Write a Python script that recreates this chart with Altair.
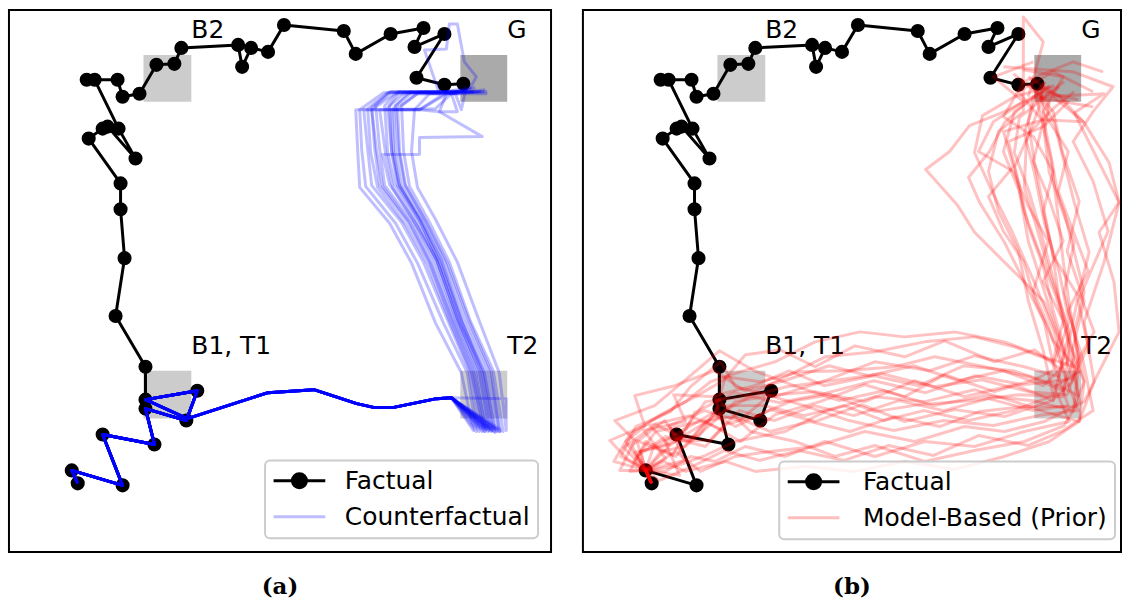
import altair as alt
import pandas as pd

# Frame coordinates: x grows to the right, y grows downward, frame spans 8..552.

# Factual trajectory (start bottom-left, ends in the G zone)
FACT_X = [77, 71, 122, 102, 154, 145, 186, 197, 145, 145, 115, 124, 120, 120, 88,
          102, 107, 135, 118, 94, 86, 117, 122, 139, 156, 174, 181, 238, 242, 251,
          268, 284, 344, 356, 391, 424, 415, 445, 417, 445, 464]
FACT_Y = [483, 470, 485, 434, 444, 408, 420, 390, 399, 366, 315, 257, 208, 182, 137,
          127, 125, 157, 127, 78, 78, 78, 95, 92, 63, 62, 46, 43, 65, 46,
          50, 23, 29, 52, 32, 26, 45, 32, 76, 83, 82]

# Counterfactual runs: common opening, then individual climbs from T2 to G
CF_SHARED_X = [77, 71, 122, 102, 154, 145, 186, 197, 145, 187, 268, 314, 357, 375, 393, 437, 452]
CF_SHARED_Y = [483, 470, 485, 434, 444, 408, 420, 390, 399, 418, 392, 389, 403, 407, 407, 398, 397]

CF_TAILS = [
    [(474, 430), (462, 372), (436, 322), (412, 262), (390, 222), (360, 186), (358, 150), (356, 108), (420, 108), (446, 91), (470, 88)],
    [(477, 431), (468, 372), (444, 322), (418, 262), (396, 222), (366, 185), (362, 148), (360, 108), (384, 91), (445, 90), (472, 86)],
    [(480, 431), (470, 371), (449, 321), (424, 261), (402, 221), (372, 184), (368, 148), (364, 108), (420, 108), (440, 110), (458, 110), (452, 92), (480, 90)],
    [(483, 431), (473, 371), (452, 320), (430, 261), (408, 220), (380, 184), (375, 147), (372, 106), (390, 90), (450, 90), (488, 90)],
    [(486, 431), (476, 370), (455, 320), (433, 260), (412, 220), (385, 184), (380, 147), (376, 104), (392, 90), (470, 90), (486, 88)],
    [(489, 431), (478, 370), (457, 320), (436, 260), (414, 219), (390, 183), (383, 153), (420, 153), (420, 136), (483, 135), (440, 110), (447, 92), (468, 88)],
    [(492, 431), (481, 370), (459, 321), (438, 261), (417, 219), (395, 183), (388, 150), (385, 104), (398, 90), (440, 92), (425, 48), (447, 47), (450, 22), (458, 22), (465, 60), (477, 75), (470, 88)],
    [(495, 431), (484, 370), (462, 320), (440, 261), (420, 219), (398, 184), (392, 150), (390, 104), (400, 90), (466, 91), (485, 90)],
    [(498, 431), (487, 370), (464, 320), (443, 261), (423, 220), (402, 184), (396, 150), (394, 106), (410, 90), (456, 92), (462, 108), (466, 90)],
    [(501, 431), (490, 370), (467, 320), (446, 261), (426, 220), (406, 184), (400, 150), (398, 106), (420, 90), (475, 90)],
    [(504, 431), (494, 370), (471, 320), (450, 261), (430, 221), (410, 185), (404, 150), (402, 104), (418, 92), (488, 92)],
    [(507, 398), (507, 430), (500, 372), (480, 320), (458, 261), (436, 218), (418, 186), (412, 150), (415, 108), (430, 92), (460, 90)],
    [(490, 430), (480, 371), (458, 318), (437, 258), (416, 222), (393, 186), (386, 152), (380, 108), (436, 107), (452, 92), (476, 86)],
    [(496, 432), (485, 372), (461, 322), (441, 263), (421, 221), (399, 182), (392, 148), (388, 106), (405, 91), (468, 89)],
    [(487, 429), (474, 369), (453, 319), (431, 262), (410, 221), (383, 185), (377, 150), (372, 108), (395, 92), (460, 92)],
    [(493, 430), (483, 372), (463, 322), (442, 259), (421, 218), (400, 185), (394, 151), (392, 108), (420, 108), (448, 92), (474, 90)],
    [(500, 431), (492, 371), (470, 321), (448, 262), (427, 221), (405, 183), (399, 149), (396, 104), (412, 91), (482, 90)],
    [(485, 431), (472, 372), (451, 322), (428, 263), (406, 223), (378, 186), (371, 151), (368, 107), (388, 91), (456, 90)],
]

# Model-based (prior) samples
PRIOR_RUNS = [
    [(77, 483), (71, 470), (60, 452), (96, 444), (121, 428), (150, 410), (176, 396), (212, 386), (258, 380), (308, 373), (360, 386), (408, 379), (455, 391), (494, 394), (506, 360), (497, 309), (490, 260), (484, 208), (478, 160), (469, 120), (462, 92), (472, 80)],
    [(77, 483), (71, 470), (49, 447), (81, 424), (115, 441), (139, 414), (161, 426), (196, 409), (241, 421), (288, 404), (331, 421), (381, 409), (431, 416), (479, 400), (500, 380), (487, 340), (471, 290), (455, 240), (446, 190), (430, 150), (441, 110), (470, 90), (505, 98)],
    [(77, 483), (71, 470), (91, 458), (69, 430), (111, 421), (99, 394), (141, 396), (176, 431), (221, 441), (261, 456), (301, 445), (351, 461), (401, 450), (451, 441), (491, 425), (506, 400), (499, 350), (511, 300), (494, 250), (506, 200), (489, 150), (480, 110), (458, 84)],
    [(77, 483), (71, 470), (39, 461), (55, 434), (86, 414), (121, 396), (150, 379), (171, 354), (206, 349), (241, 366), (281, 345), (331, 356), (371, 340), (421, 361), (461, 349), (491, 371), (481, 331), (461, 281), (439, 231), (419, 191), (401, 151), (409, 114), (441, 95), (481, 84)],
    [(77, 483), (71, 470), (101, 466), (131, 455), (161, 441), (211, 431), (251, 411), (301, 396), (351, 401), (401, 389), (441, 401), (471, 411), (506, 421), (521, 381), (511, 321), (531, 261), (546, 201), (521, 151), (501, 111), (531, 92), (471, 95)],
    [(77, 483), (71, 470), (55, 471), (71, 441), (101, 456), (131, 421), (166, 441), (201, 414), (246, 401), (291, 384), (331, 396), (371, 374), (421, 391), (461, 379), (481, 369), (471, 321), (446, 271), (431, 241), (406, 201), (395, 176), (416, 150), (431, 121), (455, 99), (476, 84)],
    [(77, 483), (71, 470), (86, 451), (111, 446), (136, 424), (161, 401), (201, 394), (241, 391), (291, 401), (341, 380), (391, 396), (441, 384), (480, 400), (491, 351), (471, 301), (431, 261), (401, 231), (384, 204), (352, 168), (376, 150), (396, 124), (431, 110), (460, 95), (520, 105)],
    [(77, 483), (71, 470), (101, 451), (126, 471), (161, 456), (196, 451), (241, 446), (291, 431), (341, 441), (391, 426), (431, 431), (471, 421), (511, 401), (531, 361), (546, 331), (541, 281), (526, 231), (546, 201), (536, 161), (511, 121), (486, 95), (466, 85)],
    [(77, 483), (71, 470), (63, 455), (91, 436), (131, 446), (151, 424), (181, 416), (216, 401), (256, 394), (301, 411), (346, 404), (396, 400), (446, 394), (490, 396), (496, 346), (486, 300), (479, 250), (469, 200), (461, 160), (455, 120), (460, 95), (478, 85)],
    [(77, 483), (71, 470), (79, 446), (106, 431), (141, 411), (151, 376), (186, 381), (226, 371), (271, 370), (321, 366), (361, 356), (411, 366), (456, 376), (490, 390), (501, 356), (491, 316), (476, 271), (463, 225), (451, 186), (453, 140), (466, 105), (471, 80)],
    [(77, 483), (71, 470), (46, 456), (61, 426), (96, 411), (116, 386), (146, 361), (161, 386), (201, 396), (251, 380), (301, 361), (356, 370), (401, 355), (451, 366), (486, 376), (496, 331), (481, 281), (469, 236), (456, 191), (441, 151), (446, 116), (471, 96), (486, 85)],
    [(77, 483), (71, 470), (91, 471), (116, 456), (141, 461), (171, 446), (211, 456), (251, 441), (301, 456), (351, 441), (401, 446), (451, 431), (496, 421), (481, 386), (506, 371), (501, 331), (491, 291), (501, 241), (486, 201), (479, 161), (471, 121), (468, 90)],
    [(77, 483), (71, 470), (59, 461), (81, 431), (126, 421), (161, 416), (196, 431), (236, 421), (276, 431), (321, 416), (366, 426), (406, 411), (451, 406), (501, 406), (511, 381), (496, 341), (483, 296), (466, 251), (451, 211), (441, 166), (456, 131), (481, 106), (501, 90)],
    [(77, 483), (71, 470), (66, 451), (101, 441), (131, 401), (171, 396), (211, 376), (251, 356), (301, 351), (351, 341), (401, 336), (441, 346), (481, 361), (496, 321), (486, 271), (471, 221), (461, 171), (451, 131), (461, 101), (491, 80)],
    [(77, 483), (71, 470), (89, 461), (111, 471), (151, 461), (181, 471), (231, 466), (281, 471), (331, 461), (381, 469), (431, 456), (476, 441), (506, 421), (511, 381), (501, 331), (511, 291), (501, 251), (491, 211), (476, 171), (471, 131), (476, 101), (440, 72)],
    [(77, 483), (71, 470), (51, 441), (76, 421), (111, 401), (136, 381), (166, 371), (201, 361), (241, 341), (286, 331), (331, 336), (381, 331), (431, 341), (471, 356), (501, 366), (521, 331), (506, 291), (516, 251), (501, 201), (491, 161), (481, 121), (466, 95)],
    [(77, 483), (71, 470), (105, 475), (90, 440), (125, 435), (145, 405), (190, 405), (230, 415), (270, 405), (310, 420), (350, 410), (395, 420), (440, 410), (480, 395), (470, 350), (455, 300), (445, 250), (425, 210), (415, 170), (425, 130), (450, 110), (450, 15), (470, 40), (455, 95)],
    [(77, 483), (71, 470), (62, 440), (98, 455), (120, 412), (160, 392), (205, 402), (250, 393), (300, 380), (352, 392), (402, 375), (450, 384), (500, 378), (515, 345), (505, 300), (535, 230), (520, 180), (500, 140), (520, 110), (540, 85), (500, 70), (430, 65)],
    [(77, 483), (71, 470), (45, 470), (60, 440), (40, 420), (80, 405), (110, 380), (145, 350), (180, 370), (220, 385), (265, 400), (310, 390), (360, 405), (410, 395), (460, 400), (500, 410), (505, 370), (480, 340), (462, 300), (450, 260), (430, 230), (415, 195), (440, 165), (430, 130), (470, 118), (510, 120), (480, 95)],
    [(77, 483), (71, 470), (95, 445), (75, 425), (115, 415), (150, 430), (140, 395), (180, 385), (215, 370), (250, 385), (300, 375), (345, 385), (390, 365), (440, 370), (485, 385), (505, 395), (495, 345), (505, 295), (480, 255), (470, 210), (480, 170), (460, 135), (430, 115), (450, 80), (500, 60), (530, 70)],
    [(77, 483), (71, 470), (110, 460), (95, 425), (130, 410), (165, 420), (195, 395), (230, 405), (275, 420), (320, 430), (370, 420), (420, 425), (465, 415), (505, 410), (490, 370), (475, 325), (460, 290), (475, 240), (455, 205), (440, 170), (405, 150), (420, 120), (450, 100), (420, 75), (460, 60)],
    [(77, 483), (71, 470), (52, 458), (35, 440), (70, 425), (60, 395), (100, 385), (140, 370), (170, 390), (210, 380), (255, 365), (295, 375), (340, 365), (385, 380), (430, 370), (470, 385), (495, 360), (480, 310), (470, 265), (455, 225), (445, 180), (435, 140), (470, 125), (495, 100), (455, 75)],
    [(77, 483), (71, 470), (85, 480), (120, 465), (150, 450), (185, 460), (225, 450), (270, 460), (315, 445), (360, 455), (405, 435), (455, 445), (490, 430), (520, 410), (510, 360), (495, 310), (515, 270), (500, 230), (485, 190), (495, 150), (470, 110), (490, 75), (450, 68)],
    [(77, 483), (71, 470), (57, 445), (90, 420), (105, 440), (135, 440), (165, 410), (200, 420), (240, 405), (280, 415), (325, 400), (370, 410), (415, 398), (460, 410), (495, 405), (480, 360), (490, 320), (470, 280), (490, 240), (475, 195), (460, 160), (470, 120), (445, 90), (480, 70), (520, 90)],
]

# Zones of the environment
ZONE_NAMES = ["B2", "G", "B1, T1", "T2"]
ZONE_X0 = [143, 461, 143, 461]
ZONE_X1 = [191, 508, 191, 508]
ZONE_Y0 = [53, 53, 370, 370]
ZONE_Y1 = [100, 100, 418, 418]
ZONE_SHADE = ["#cccccc", "#aaaaaa", "#cccccc", "#cccccc"]

FACTUAL = "Factual"
FACTUAL_GLYPH = ("M-2.36,0L2.36,0"
                 "M0.64,0A0.64,0.64,0,1,1,-0.64,0A0.64,0.64,0,1,1,0.64,0"
                 "M0.41,0A0.41,0.41,0,1,1,-0.41,0A0.41,0.41,0,1,1,0.41,0"
                 "M0.18,0A0.18,0.18,0,1,1,-0.18,0A0.18,0.18,0,1,1,0.18,0")
LINE_GLYPH = "M-2.36,0L2.36,0"

factual_df = pd.DataFrame({"x": FACT_X, "y": FACT_Y, "step": range(len(FACT_X)),
                           "series": FACTUAL})
zones_df = pd.DataFrame({"name": ZONE_NAMES, "x0": ZONE_X0, "x1": ZONE_X1,
                         "y0": ZONE_Y0, "y1": ZONE_Y1, "shade": ZONE_SHADE})


def runs_frame(runs, label):
    rows = []
    for r, pts in enumerate(runs):
        for s, (px, py) in enumerate(pts):
            rows.append({"x": px, "y": py, "step": s, "run": r, "series": label})
    return pd.DataFrame(rows)


cf_runs = [list(zip(CF_SHARED_X, CF_SHARED_Y)) + tail for tail in CF_TAILS]
cf_df = runs_frame(cf_runs, "Counterfactual")
prior_df = runs_frame(PRIOR_RUNS, "Model-Based (Prior)")


def panel(runs_df, label, hue, alpha, width, legend_x, legend_y, label_gap, tag):
    xs = alt.Scale(domain=[8, 8 + width])
    ys = alt.Scale(domain=[8, 552], reverse=True)
    color = alt.Color(
        "series:N",
        scale=alt.Scale(domain=[FACTUAL, label], range=["black", hue]),
        legend=alt.Legend(
            title=None, orient="none", legendX=legend_x, legendY=legend_y,
            direction="vertical", fillColor="rgba(255,255,255,0.8)",
            strokeColor="#cccccc", cornerRadius=5, padding=8,
            labelFont="DejaVu Sans", labelFontSize=25, labelColor="black",
            labelLimit=400, labelOffset=label_gap, symbolOffset=14, rowPadding=10,
            symbolSize=484, symbolStrokeWidth=3,
            symbolType={"expr": f"datum.value === '{FACTUAL}' ? '{FACTUAL_GLYPH}' : '{LINE_GLYPH}'"},
            symbolOpacity={"expr": f"datum.value === '{FACTUAL}' ? 1 : 0.25"},
        ),
    )
    zones = alt.Chart(zones_df).mark_rect().encode(
        x=alt.X("x0:Q", scale=xs, axis=None), x2="x1:Q",
        y=alt.Y("y0:Q", scale=ys, axis=None), y2="y1:Q",
        color=alt.Color("shade:N", scale=None),
    )
    names = alt.Chart(zones_df).mark_text(
        align="left", baseline="alphabetic", dy=-17, font="DejaVu Sans",
        fontSize=25, color="black",
    ).encode(x=alt.X("x1:Q", scale=xs, axis=None), y=alt.Y("y0:Q", scale=ys, axis=None), text="name:N")
    fact_line = alt.Chart(factual_df).mark_line(strokeWidth=3, strokeJoin="round").encode(
        x=alt.X("x:Q", scale=xs, axis=None), y=alt.Y("y:Q", scale=ys, axis=None),
        order="step:Q", color=color,
    )
    fact_pts = alt.Chart(factual_df).mark_circle(size=200, opacity=1, color="black").encode(
        x=alt.X("x:Q", scale=xs, axis=None), y=alt.Y("y:Q", scale=ys, axis=None),
    )
    runs = alt.Chart(runs_df).mark_line(strokeWidth=3, strokeJoin="round", opacity=alpha).encode(
        x=alt.X("x:Q", scale=xs, axis=None), y=alt.Y("y:Q", scale=ys, axis=None),
        order="step:Q", detail="run:N", color=color,
    )
    return alt.layer(zones, names, fact_line, fact_pts, runs).properties(
        width=width, height=544,
        title=alt.TitleParams(tag, orient="bottom", anchor="middle", font="DejaVu Serif",
                              fontSize=23, fontWeight="bold", color="black", offset=24),
    )


left = panel(cf_df, "Counterfactual", "blue", 0.25, 544, 257, 452, 33, "(a)")
right = panel(prior_df, "Model-Based (Prior)", "red", 0.24, 540, 197, 453, 37, "(b)")

chart = alt.hconcat(left, right, spacing=30).resolve_scale(
    color="independent"
).resolve_legend(color="independent").properties(
    padding={"left": 8, "top": 8, "right": 0, "bottom": 0}
).configure_view(stroke="black", strokeWidth=2).configure_legend(strokeWidth=2)

chart.save("out.html", embed_options={"renderer": "svg", "actions": False})
